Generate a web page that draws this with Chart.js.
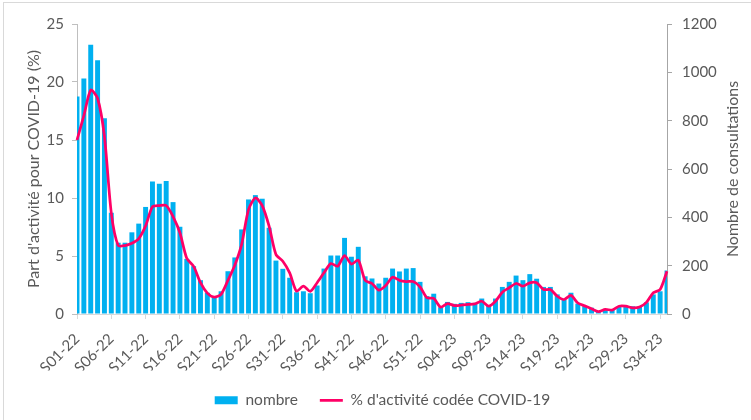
<!DOCTYPE html>
<html><head><meta charset="utf-8">
<script src="https://cdn.jsdelivr.net/npm/chart.js@4.4.1/dist/chart.umd.min.js"></script>
<style>
html,body{margin:0;padding:0;background:#fff;overflow:hidden;}
#wrap{position:relative;width:751px;height:420px;overflow:hidden;}
#frame{position:absolute;left:3px;top:2px;width:800px;height:500px;border:1px solid #d9d9d9;}
canvas{position:absolute;left:0;top:0;}
</style></head><body>
<div id="wrap"><div id="frame"></div><canvas id="c" width="751" height="420"></canvas></div>
<script>
const categories = [
 "S01-22","S02-22","S03-22","S04-22","S05-22","S06-22","S07-22","S08-22","S09-22","S10-22",
 "S11-22","S12-22","S13-22","S14-22","S15-22","S16-22","S17-22","S18-22","S19-22","S20-22",
 "S21-22","S22-22","S23-22","S24-22","S25-22","S26-22","S27-22","S28-22","S29-22","S30-22",
 "S31-22","S32-22","S33-22","S34-22","S35-22","S36-22","S37-22","S38-22","S39-22","S40-22",
 "S41-22","S42-22","S43-22","S44-22","S45-22","S46-22","S47-22","S48-22","S49-22","S50-22",
 "S51-22","S52-22","S01-23","S02-23","S03-23","S04-23","S05-23","S06-23","S07-23","S08-23",
 "S09-23","S10-23","S11-23","S12-23","S13-23","S14-23","S15-23","S16-23","S17-23","S18-23",
 "S19-23","S20-23","S21-23","S22-23","S23-23","S24-23","S25-23","S26-23","S27-23","S28-23",
 "S29-23","S30-23","S31-23","S32-23","S33-23","S34-23","S35-23"
];
// Nombre de consultations (right axis)
const nombre = [
 900,975,1114,1050,810,419,295,295,338,374,
 443,548,539,550,463,361,228,198,140,88,
 72,94,177,234,350,474,492,477,357,221,
 187,150,90,94,86,118,188,242,242,315,
 237,278,156,147,126,150,188,176,188,190,
 133,74,84,28,50,42,46,49,46,64,
 35,64,112,133,159,140,165,146,112,112,
 81,60,88,43,32,26,12,16,19,30,
 32,32,30,48,81,94,180
];
// % d'activité codée COVID-19 (left axis)
const pctCovid = [
 15.0,17.1,19.3,18.6,15.3,8.7,5.9,5.9,6.1,6.5,
 7.6,9.24,9.35,9.35,8.4,7.0,4.8,4.1,2.7,1.8,
 1.45,1.7,2.9,4.2,6.0,9.0,10.0,9.35,7.57,5.13,
 4.55,3.55,1.97,2.4,1.95,2.69,3.55,4.35,4.12,5.04,
 4.3,4.64,2.9,2.63,2.05,2.46,3.17,2.9,2.8,2.8,
 2.34,1.4,1.34,0.59,0.9,0.73,0.76,0.82,0.88,1.1,
 0.67,1.1,1.88,2.26,2.63,2.4,2.69,2.69,2.11,2.11,
 1.53,1.25,1.6,0.95,0.7,0.45,0.2,0.4,0.33,0.67,
 0.67,0.53,0.6,1.0,1.83,2.11,3.69
];
const leftRange = [0, 25, 5];
const rightRange = [0, 1200, 200];
const labelEvery = 5;

const FONT = "Lato, 'Open Sans', sans-serif";
const TXT = '#595959';
const BLUE = '#00B0F0';
const PINK = '#FF0066';
const AREA = {left: 77, right: 667, top: 24, bottom: 314};
const PAD = {left: 14, bottom: 2};

const rightTitle = {
  id: 'rightTitle',
  afterDraw(chart) {
    const ctx = chart.ctx;
    const a = chart.chartArea;
    ctx.save();
    ctx.translate(733, (a.top + a.bottom) / 2);
    ctx.rotate(-Math.PI / 2);
    ctx.font = '16px ' + FONT;
    ctx.fillStyle = TXT;
    ctx.textAlign = 'center';
    ctx.textBaseline = 'middle';
    ctx.fillText('Nombre de consultations', 0, 0);
    ctx.restore();
  }
};

new Chart(document.getElementById('c'), {
  type: 'bar',
  data: {
    labels: categories,
    datasets: [
      {type: 'bar', label: 'nombre', data: nombre, yAxisID: 'yR',
       backgroundColor: BLUE, borderWidth: 0, barPercentage: 0.72, categoryPercentage: 1,
       order: 1, clip: 0},
      {type: 'line', label: "% d'activité codée COVID-19", data: pctCovid, yAxisID: 'yL',
       borderColor: PINK, backgroundColor: PINK, borderWidth: 2.75, pointRadius: 0,
       tension: 0.25, order: 0, clip: 3}
    ]
  },
  options: {
    responsive: false, animation: false,
    layout: {padding: {top: AREA.top, bottom: PAD.bottom, left: PAD.left, right: 0}},
    plugins: {
      tooltip: {enabled: false},
      legend: {
        position: 'bottom',
        labels: {
          color: TXT, font: {family: FONT, size: 15.5},
          usePointStyle: true, pointStyleWidth: 23, boxHeight: 8, padding: 22,
          generateLabels(chart) {
            const items = Chart.defaults.plugins.legend.labels.generateLabels(chart);
            items.sort((a, b) => a.datasetIndex - b.datasetIndex);
            items.forEach(it => {
              if (it.datasetIndex === 0) { it.pointStyle = 'rect'; it.lineWidth = 0; it.strokeStyle = BLUE; }
              else { it.pointStyle = 'line'; it.lineWidth = 2.75; it.strokeStyle = PINK; }
            });
            return items;
          }
        }
      }
    },
    scales: {
      x: {
        offset: false,
        grid: {offset: false, drawOnChartArea: false, tickLength: 5,
               color: c => (c.index % labelEvery === 0) ? '#d9d9d9' : 'rgba(0,0,0,0)'},
        border: {color: '#d9d9d9'},
        ticks: {autoSkip: false, maxRotation: 45, minRotation: 45, padding: 11,
                color: TXT, font: {family: FONT, size: 15},
                callback: (v, i) => (i % labelEvery === 0) ? categories[i] : ''},
        afterFit: s => { s.height = 420 - PAD.bottom - s.chart.legend.height - AREA.bottom; }
      },
      yL: {
        position: 'left', min: leftRange[0], max: leftRange[1],
        ticks: {stepSize: leftRange[2], color: TXT, font: {family: FONT, size: 15}, padding: 8},
        grid: {drawOnChartArea: false, tickLength: 5, color: '#bfbfbf'},
        border: {color: '#bfbfbf'},
        title: {display: true, text: "Part d'activité pour COVID-19 (%)", color: TXT,
                font: {family: FONT, size: 16}, padding: {top: 10, bottom: 0}},
        afterFit: s => { s.width = AREA.left - PAD.left; }
      },
      yR: {
        position: 'right', min: rightRange[0], max: rightRange[1],
        ticks: {stepSize: rightRange[2], color: TXT, font: {family: FONT, size: 15}, padding: 10,
                callback: v => String(v)},
        grid: {drawOnChartArea: false, tickLength: 5, color: '#a6a6a6'},
        border: {color: '#a6a6a6'},
        afterFit: s => { s.width = 751 - AREA.right; }
      }
    }
  },
  plugins: [rightTitle]
});
</script>
</body></html>
